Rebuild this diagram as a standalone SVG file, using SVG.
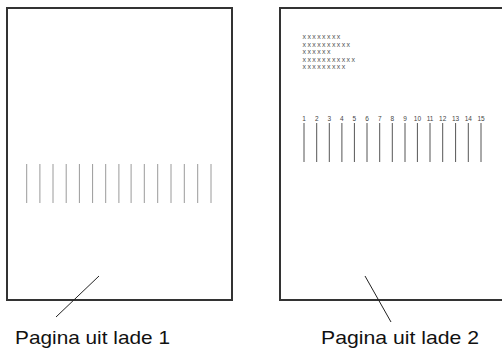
<svg xmlns="http://www.w3.org/2000/svg" width="502" height="350" viewBox="0 0 502 350">
<style>
.page{fill:#fff;stroke:#333;stroke-width:2}
.l1{stroke:#9a9a9a;stroke-width:1}
.l2{stroke:#555;stroke-width:1}
.call{stroke:#222;stroke-width:1;fill:none}
.lbl{font-family:"Liberation Sans",Arial,sans-serif;font-size:18.5px;fill:#111}
.xx{font-family:"Liberation Sans",Arial,sans-serif;font-size:7px;fill:#555;letter-spacing:1.4px}
.num{font-family:"Liberation Sans",Arial,sans-serif;font-size:6.5px;fill:#444;text-anchor:middle}
</style>
<rect width="502" height="350" fill="#fff"/>
<g id="page1">
<rect class="page" x="7" y="8" width="225" height="292"/>
<g id="lines1">
<line class="l1" x1="26.7" y1="164" x2="26.7" y2="203"/>
<line class="l1" x1="39.9" y1="164" x2="39.9" y2="203"/>
<line class="l1" x1="53.0" y1="164" x2="53.0" y2="203"/>
<line class="l1" x1="66.2" y1="164" x2="66.2" y2="203"/>
<line class="l1" x1="79.4" y1="164" x2="79.4" y2="203"/>
<line class="l1" x1="92.6" y1="164" x2="92.6" y2="203"/>
<line class="l1" x1="105.7" y1="164" x2="105.7" y2="203"/>
<line class="l1" x1="118.9" y1="164" x2="118.9" y2="203"/>
<line class="l1" x1="131.1" y1="164" x2="131.1" y2="203"/>
<line class="l1" x1="144.3" y1="164" x2="144.3" y2="203"/>
<line class="l1" x1="157.7" y1="164" x2="157.7" y2="203"/>
<line class="l1" x1="171.0" y1="164" x2="171.0" y2="203"/>
<line class="l1" x1="184.3" y1="164" x2="184.3" y2="203"/>
<line class="l1" x1="197.7" y1="164" x2="197.7" y2="203"/>
<line class="l1" x1="211.0" y1="164" x2="211.0" y2="203"/>
</g>
</g>
<g id="page2">
<rect class="page" x="280" y="8" width="240" height="292"/>
<g id="xtext">
<text class="xx" x="302.5" y="39">xxxxxxxx</text>
<text class="xx" x="302.5" y="46.5">xxxxxxxxxx</text>
<text class="xx" x="302.5" y="54">xxxxxx</text>
<text class="xx" x="302.5" y="61.5">xxxxxxxxxxx</text>
<text class="xx" x="302.5" y="69">xxxxxxxxx</text>
</g>
<g id="lines2">
<line class="l2" x1="304" y1="123" x2="304" y2="162"/>
<line class="l2" x1="316.7" y1="123" x2="316.7" y2="162"/>
<line class="l2" x1="329.3" y1="123" x2="329.3" y2="162"/>
<line class="l2" x1="341.9" y1="123" x2="341.9" y2="162"/>
<line class="l2" x1="354.4" y1="123" x2="354.4" y2="162"/>
<line class="l2" x1="367.0" y1="123" x2="367.0" y2="162"/>
<line class="l2" x1="379.7" y1="123" x2="379.7" y2="162"/>
<line class="l2" x1="392.3" y1="123" x2="392.3" y2="162"/>
<line class="l2" x1="405.0" y1="123" x2="405.0" y2="162"/>
<line class="l2" x1="417.4" y1="123" x2="417.4" y2="162"/>
<line class="l2" x1="430.0" y1="123" x2="430.0" y2="162"/>
<line class="l2" x1="442.7" y1="123" x2="442.7" y2="162"/>
<line class="l2" x1="455.6" y1="123" x2="455.6" y2="162"/>
<line class="l2" x1="468.3" y1="123" x2="468.3" y2="162"/>
<line class="l2" x1="481.0" y1="123" x2="481.0" y2="162"/>
</g>
<g id="nums">
<text class="num" x="304" y="121">1</text>
<text class="num" x="316.7" y="121">2</text>
<text class="num" x="329.3" y="121">3</text>
<text class="num" x="341.9" y="121">4</text>
<text class="num" x="354.4" y="121">5</text>
<text class="num" x="367.0" y="121">6</text>
<text class="num" x="379.7" y="121">7</text>
<text class="num" x="392.3" y="121">8</text>
<text class="num" x="405.0" y="121">9</text>
<text class="num" x="417.4" y="121">10</text>
<text class="num" x="430.0" y="121">11</text>
<text class="num" x="442.7" y="121">12</text>
<text class="num" x="455.6" y="121">13</text>
<text class="num" x="468.3" y="121">14</text>
<text class="num" x="481.0" y="121">15</text>
</g>
</g>
<g id="connectors">
<line class="call" x1="99" y1="276" x2="56" y2="317"/>
<line class="call" x1="365" y1="276" x2="391" y2="322"/>
</g>
<g id="labels">
<text class="lbl" x="15" y="344" textLength="155" lengthAdjust="spacingAndGlyphs">Pagina uit lade 1</text>
<text class="lbl" x="321" y="344" textLength="158" lengthAdjust="spacingAndGlyphs">Pagina uit lade 2</text>
</g>
</svg>
